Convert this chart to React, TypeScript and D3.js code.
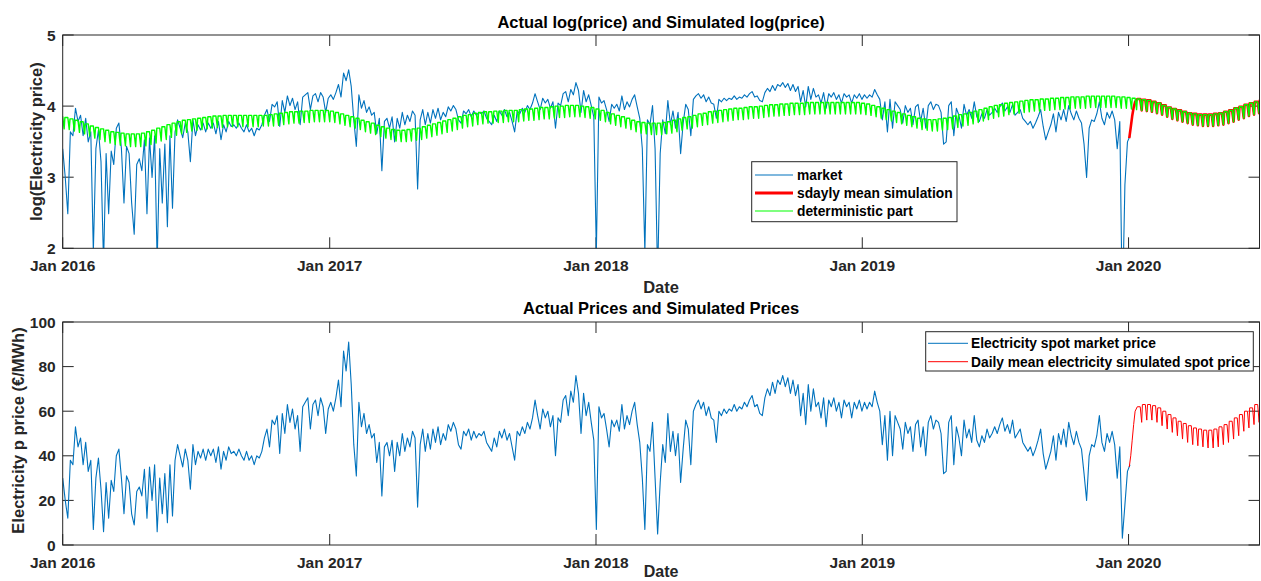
import React from 'react';
import * as d3 from 'd3';

// ---------- data ----------
// Market price (EUR/MWh), one reading every 3.5 days starting 2016-01-01
const marketPrice = [
  30, 20, 12, 38, 36, 53, 44, 48, 36, 46, 33, 38, 7, 30, 39, 25, 6, 28, 12, 29,
  24, 40, 43, 30, 14, 31, 28, 14, 9, 24, 26, 22, 34, 12, 35, 20, 36, 6, 30, 14,
  32, 10, 36, 13, 38, 45, 40, 35, 43, 38, 25, 45, 36, 42, 39, 43, 38, 43, 40, 43,
  37, 44, 34, 42, 38, 44, 41, 42, 40, 43,
  40, 38, 42, 38, 40, 36, 40, 39, 42, 48, 52, 44, 56, 54, 58, 41, 59, 50, 63, 55,
  61, 52, 58, 42, 62, 64, 66, 52, 63, 65, 58, 66, 62, 50, 61, 64, 60, 66, 74, 62,
  87, 78, 91, 72, 45, 31, 64, 53, 59, 50, 54, 48, 50, 37, 46, 22, 44, 46, 40, 47,
  33, 46, 40, 50, 42, 48, 44, 51, 48, 17,
  45, 52, 42, 50, 43, 52, 46, 53, 45, 50, 47, 54, 51, 55, 52, 45, 43, 51, 49, 52,
  47, 51, 48, 50, 49, 51, 46, 44, 42, 48, 44, 51, 48, 52, 47, 50, 44, 38, 51, 49,
  53, 50, 55, 52, 57, 65, 58, 52, 61, 57, 60, 53, 58, 40, 57, 55, 65, 67, 58, 69,
  64, 76, 68, 50, 68, 58, 64, 55, 47, 7,
  62, 57, 59, 52, 44, 56, 53, 56, 51, 63, 52, 58, 54, 60, 64, 54, 46, 30, 7, 45,
  42, 55, 30, 5, 28, 45, 37, 59, 42, 51, 40, 50, 28, 43, 56, 52, 36, 60, 63, 65,
  61, 64, 58, 62, 57, 56, 46, 60, 58, 61, 59, 61, 60, 63, 60, 62, 61, 64, 62, 65,
  67, 62, 63, 59, 58, 66, 70, 67, 73, 68,
  74, 72, 76, 71, 75, 68, 74, 67, 72, 58, 68, 54, 72, 60, 70, 62, 64, 57, 66, 53,
  65, 62, 66, 60, 64, 57, 65, 62, 64, 57, 64, 61, 65, 60, 64, 61, 64, 62, 69, 64,
  60, 45, 58, 38, 60, 40, 58, 55, 52, 43, 55, 50, 53, 42, 54, 56, 44, 53, 40, 55,
  58, 52, 56, 55, 50, 32, 33, 55, 58, 36, 53,
  48, 40, 56, 48, 52, 46, 58, 47, 44, 49, 46, 52, 48, 50, 53, 50, 54, 57, 51, 54,
  50, 56, 48, 50, 52, 46, 44, 42, 44, 40, 43, 47, 52, 41, 34, 38, 42, 49, 38, 50,
  45, 52, 44, 55, 49, 45, 51, 46, 43, 32, 20, 40, 45, 44, 49, 58, 46, 42, 50, 46,
  51, 45, 30, 44, 3, 18, 33, 36,
];
const marketStepDays = 3.5;

// Deterministic part (log price), weekly: weekday level (Mon-Fri) and Sunday level.
// Week w: Monday = day 7w-4, Friday = day 7w, Sunday = day 7w+2 (day 0 = 2016-01-01)
const detWeekday = [
  3.85, 3.84, 3.82, 3.80, 3.78, 3.75, 3.72, 3.70, 3.68, 3.66,
  3.64, 3.63, 3.62, 3.61, 3.61, 3.61, 3.62, 3.64, 3.66, 3.69,
  3.71, 3.74, 3.76, 3.78, 3.80, 3.81, 3.82, 3.83, 3.84, 3.85,
  3.86, 3.86, 3.87, 3.87, 3.87, 3.87, 3.87, 3.87, 3.87, 3.87,
  3.87, 3.88, 3.89, 3.90, 3.91, 3.92, 3.92, 3.93, 3.93, 3.94,
  3.94, 3.94, 3.94, 3.93, 3.91, 3.89, 3.87, 3.85, 3.83, 3.80,
  3.78, 3.76, 3.73, 3.71, 3.69, 3.67, 3.66, 3.66, 3.67, 3.68,
  3.69, 3.71, 3.73, 3.75, 3.77, 3.79, 3.81, 3.83, 3.85, 3.87,
  3.88, 3.90, 3.91, 3.92, 3.92, 3.93, 3.93, 3.94, 3.94, 3.94,
  3.95, 3.96, 3.96, 3.97, 3.98, 3.98, 3.99, 4.00, 4.00, 4.01,
  4.01, 4.01, 4.00, 3.99, 3.98, 3.96, 3.94, 3.91, 3.89, 3.87,
  3.85, 3.83, 3.80, 3.78, 3.77, 3.76, 3.76, 3.76, 3.77, 3.78,
  3.80, 3.82, 3.84, 3.85, 3.87, 3.89, 3.90, 3.92, 3.93, 3.94,
  3.95, 3.96, 3.97, 3.97, 3.98, 3.99, 3.99, 4.00, 4.01, 4.02,
  4.02, 4.03, 4.03, 4.04, 4.04, 4.04, 4.05, 4.05, 4.05, 4.05,
  4.05, 4.05, 4.05, 4.05, 4.05, 4.05, 4.05, 4.04, 4.03, 4.01,
  3.99, 3.97, 3.95, 3.93, 3.91, 3.89, 3.87, 3.85, 3.83, 3.82,
  3.81, 3.81, 3.82, 3.83, 3.84, 3.86, 3.88, 3.89, 3.91, 3.93,
  3.95, 3.97, 3.99, 4.01, 4.02, 4.04, 4.05, 4.06, 4.07, 4.08,
  4.09, 4.09, 4.10, 4.10, 4.11, 4.11, 4.12, 4.12, 4.13, 4.13,
  4.13, 4.14, 4.14, 4.14, 4.14, 4.14, 4.14, 4.13, 4.13, 4.12,
  4.11, 4.10, 4.09, 4.08, 4.06, 4.04, 4.01, 3.98, 3.96, 3.94,
  3.92, 3.90, 3.89, 3.88, 3.88, 3.88, 3.89, 3.90, 3.92, 3.94,
  3.97, 3.99, 4.02, 4.04, 4.06, 4.08,
];
const detWeekend = [
  3.68, 3.67, 3.65, 3.63, 3.61, 3.58, 3.55, 3.53, 3.50, 3.48,
  3.46, 3.45, 3.44, 3.43, 3.43, 3.43, 3.44, 3.46, 3.48, 3.51,
  3.53, 3.56, 3.59, 3.61, 3.63, 3.65, 3.66, 3.67, 3.68, 3.69,
  3.70, 3.70, 3.71, 3.71, 3.71, 3.71, 3.71, 3.71, 3.71, 3.72,
  3.72, 3.72, 3.73, 3.74, 3.75, 3.76, 3.76, 3.77, 3.77, 3.78,
  3.78, 3.78, 3.78, 3.77, 3.75, 3.73, 3.71, 3.69, 3.67, 3.64,
  3.62, 3.60, 3.57, 3.55, 3.53, 3.51, 3.50, 3.50, 3.51, 3.52,
  3.53, 3.55, 3.57, 3.59, 3.61, 3.63, 3.65, 3.67, 3.69, 3.71,
  3.72, 3.74, 3.75, 3.76, 3.76, 3.77, 3.77, 3.78, 3.78, 3.78,
  3.79, 3.80, 3.80, 3.81, 3.82, 3.82, 3.83, 3.84, 3.84, 3.85,
  3.85, 3.85, 3.84, 3.83, 3.82, 3.80, 3.78, 3.75, 3.73, 3.71,
  3.69, 3.67, 3.64, 3.62, 3.61, 3.60, 3.60, 3.60, 3.61, 3.62,
  3.64, 3.66, 3.68, 3.69, 3.71, 3.73, 3.74, 3.76, 3.77, 3.78,
  3.79, 3.80, 3.81, 3.81, 3.82, 3.83, 3.83, 3.84, 3.85, 3.86,
  3.86, 3.87, 3.87, 3.88, 3.88, 3.88, 3.89, 3.89, 3.89, 3.89,
  3.89, 3.89, 3.89, 3.89, 3.89, 3.89, 3.89, 3.88, 3.87, 3.85,
  3.83, 3.81, 3.79, 3.77, 3.75, 3.73, 3.71, 3.69, 3.67, 3.66,
  3.65, 3.65, 3.66, 3.67, 3.68, 3.70, 3.72, 3.73, 3.75, 3.77,
  3.79, 3.81, 3.83, 3.85, 3.86, 3.88, 3.89, 3.90, 3.91, 3.92,
  3.93, 3.93, 3.94, 3.94, 3.95, 3.95, 3.96, 3.96, 3.97, 3.97,
  3.97, 3.98, 3.98, 3.98, 3.98, 3.98, 3.98, 3.97, 3.97, 3.96,
  3.95, 3.94, 3.93, 3.92, 3.90, 3.88, 3.85, 3.82, 3.80, 3.78,
  3.76, 3.74, 3.73, 3.72, 3.72, 3.72, 3.73, 3.74, 3.76, 3.78,
  3.81, 3.83, 3.86, 3.88, 3.90, 3.92,
];

// Simulation (2020): start-up days, then weekly levels from week 211 (Mon 2020-01-13)
const simRampDay = [1462, 1464, 1466, 1468, 1470];
const simRampLog = [3.55, 3.70, 3.86, 3.98, 4.06];
const simRampPrice = [35, 40, 47, 54, 60];
const simFirstWeek = 211;
const simWeekdayLog = [
  4.10, 4.09, 4.08, 4.06, 4.04, 4.01, 3.98, 3.96, 3.94, 3.92, 3.90, 3.89, 3.88,
  3.88, 3.88, 3.89, 3.90, 3.92, 3.94, 3.97, 3.99, 4.02, 4.04, 4.06, 4.08,
];
const simWeekendLog = [
  3.94, 3.93, 3.92, 3.90, 3.88, 3.85, 3.82, 3.80, 3.78, 3.76, 3.74, 3.73, 3.72,
  3.72, 3.72, 3.73, 3.74, 3.76, 3.78, 3.81, 3.83, 3.86, 3.88, 3.90, 3.92,
];
const simWeekdayPrice = [
  62, 63, 63, 62.5, 61.5, 60, 58.5, 57, 55.5, 54.5, 53.5, 52.5, 52,
  51.5, 51.5, 52, 53, 54, 55.5, 57, 58.5, 60, 61.5, 63, 64,
];
const simWeekendPrice = [
  55, 56, 56, 55, 53.5, 52, 50.5, 49, 47.5, 46, 45, 44.5, 44,
  43.5, 43.5, 44, 45, 46, 47.5, 49, 51, 52.5, 54, 55, 56,
];

const yearTicks = [2016, 2017, 2018, 2019, 2020];
const logTicks = [2, 3, 4, 5];
const priceTicks = [0, 20, 40, 60, 80, 100];

// ---------- drawing ----------
const FONT = "'Liberation Sans', Arial, Helvetica, sans-serif";
const INK = '#262626';
const BLUE = '#0072BD';
const RED = '#FF0000';
const GREEN = '#00ff00';

type Pt = { date: Date; v: number };

const T0 = Date.UTC(2016, 0, 1);
const day = (d: number) => new Date(T0 + d * 864e5);

function weeklyPoints(first: number, weekday: number[], weekend: number[]): Pt[] {
  const pts: Pt[] = [];
  weekday.forEach((hi, k) => {
    const w = first + k;
    pts.push({ date: day(7 * w - 4), v: hi });
    pts.push({ date: day(7 * w), v: hi });
    pts.push({ date: day(7 * w + 2), v: weekend[k] });
  });
  return pts;
}

export default function App() {
  const W = 1261;
  const H = 581;
  const left = 62.7;
  const right = 1259.5;
  const top1 = 35, bot1 = 248.3;
  const top2 = 322, bot2 = 545;
  const tickLen = 11;
  const fs = 15.5;

  const x = d3.scaleUtc().domain([day(0), day(1640.5)]).range([left, right]);
  const y1 = d3.scaleLinear().domain([2, 5]).range([bot1, top1]);
  const y2 = d3.scaleLinear().domain([0, 100]).range([bot2, top2]);

  const marketPts: Pt[] = marketPrice.map((p, i) => ({ date: day(i * marketStepDays), v: p }));
  const marketLog: Pt[] = marketPts.map((p) => ({ date: p.date, v: Math.log(p.v) }));
  const detPts = weeklyPoints(0, detWeekday, detWeekend);
  const simLogPts: Pt[] = [
    ...simRampDay.map((d, i) => ({ date: day(d), v: simRampLog[i] })),
    ...weeklyPoints(simFirstWeek, simWeekdayLog, simWeekendLog),
  ];
  const simPricePts: Pt[] = [
    ...simRampDay.map((d, i) => ({ date: day(d), v: simRampPrice[i] })),
    ...weeklyPoints(simFirstWeek, simWeekdayPrice, simWeekendPrice),
  ];

  const line1 = d3.line<Pt>().x((p) => x(p.date)).y((p) => y1(p.v));
  const line2 = d3.line<Pt>().x((p) => x(p.date)).y((p) => y2(p.v));

  const xTickVals = yearTicks.map((yr) => new Date(Date.UTC(yr, 0, 1)));
  const cx = (left + right) / 2;

  const axes = (
    top: number,
    bot: number,
    y: d3.ScaleLinear<number, number>,
    yTicks: number[],
    clipId: string
  ) => (
    <g>
      <defs>
        <clipPath id={clipId}>
          <rect x={left} y={top} width={right - left} height={bot - top} />
        </clipPath>
      </defs>
      {xTickVals.map((t, i) => (
        <g key={'xt' + i}>
          <line x1={x(t)} x2={x(t)} y1={bot} y2={bot - tickLen} stroke={INK} strokeWidth={1} />
          <line x1={x(t)} x2={x(t)} y1={top} y2={top + tickLen} stroke={INK} strokeWidth={1} />
          <text x={x(t)} y={bot + 22.5} textAnchor="middle" fontSize={fs} fontWeight="bold" fill={INK} fontFamily={FONT}>
            {'Jan ' + yearTicks[i]}
          </text>
        </g>
      ))}
      {yTicks.map((v) => (
        <g key={'yt' + v}>
          <line x1={left} x2={left + tickLen} y1={y(v)} y2={y(v)} stroke={INK} strokeWidth={1} />
          <line x1={right - tickLen} x2={right} y1={y(v)} y2={y(v)} stroke={INK} strokeWidth={1} />
          <text x={left - 7} y={y(v)} dy="0.36em" textAnchor="end" fontSize={fs} fontWeight="bold" fill={INK} fontFamily={FONT}>
            {v}
          </text>
        </g>
      ))}
    </g>
  );

  const box = (top: number, bot: number) => (
    <rect x={left} y={top} width={right - left} height={bot - top} fill="none" stroke={INK} strokeWidth={1} />
  );

  return (
    <svg
      width={W}
      height={H}
      viewBox={`0 0 ${W} ${H}`}
      style={{ position: 'absolute', left: 0, top: 0, background: '#fff' }}
      fontFamily={FONT}
    >
      <rect x={0} y={0} width={W} height={H} fill="#fff" />

      {/* ---------- top panel ---------- */}
      <rect x={left} y={top1} width={right - left} height={bot1 - top1} fill="#fff" />
      {axes(top1, bot1, y1, logTicks, 'clip1')}
      <g clipPath="url(#clip1)" fill="none">
        <path d={line1(marketLog) || ''} stroke={BLUE} strokeWidth={1.1} strokeLinejoin="round" />
        <path d={line1(simLogPts) || ''} stroke={RED} strokeWidth={2.6} strokeLinejoin="round" />
        <path d={line1(detPts) || ''} stroke={GREEN} strokeWidth={1.4} strokeLinejoin="round" />
      </g>
      {box(top1, bot1)}
      <text x={cx} y={28} textAnchor="middle" fontSize={16.5} fontWeight="bold" fill="#000">
        Actual log(price) and Simulated log(price)
      </text>
      <text x={cx} y={293} textAnchor="middle" fontSize={16.5} fontWeight="bold" fill={INK}>
        Date
      </text>
      <text
        transform={`translate(36, ${(top1 + bot1) / 2}) rotate(-90)`}
        dy="0.35em"
        textAnchor="middle"
        fontSize={16.5}
        fontWeight="bold"
        fill={INK}
      >
        log(Electricity price)
      </text>

      {/* top legend */}
      <g>
        <rect x={751.7} y={161.7} width={205.3} height={60} fill="#fff" stroke={INK} strokeWidth={1} />
        {[
          { label: 'market', color: BLUE, w: 1.1 },
          { label: 'sdayly mean simulation', color: RED, w: 3 },
          { label: 'deterministic part', color: GREEN, w: 1.2 },
        ].map((e, i) => (
          <g key={e.label}>
            <line x1={755} x2={793} y1={175 + i * 18} y2={175 + i * 18} stroke={e.color} strokeWidth={e.w} />
            <text x={797} y={175 + i * 18} dy="0.35em" fontSize={13.8} fontWeight="bold" fill="#000">
              {e.label}
            </text>
          </g>
        ))}
      </g>

      {/* ---------- bottom panel ---------- */}
      {axes(top2, bot2, y2, priceTicks, 'clip2')}
      <g clipPath="url(#clip2)" fill="none">
        <path d={line2(marketPts) || ''} stroke={BLUE} strokeWidth={1.1} strokeLinejoin="round" />
        <path d={line2(simPricePts) || ''} stroke={RED} strokeWidth={1} strokeLinejoin="round" />
      </g>
      {box(top2, bot2)}
      <text x={cx} y={314} textAnchor="middle" fontSize={16.5} fontWeight="bold" fill="#000">
        Actual Prices and Simulated Prices
      </text>
      <text x={cx} y={577} textAnchor="middle" fontSize={16} fontWeight="bold" fill={INK}>
        Date
      </text>
      <text
        transform={`translate(18, ${(top2 + bot2) / 2 - 3}) rotate(-90)`}
        dy="0.35em"
        textAnchor="middle"
        fontSize={16.5}
        fontWeight="bold"
        fill={INK}
      >
        Electricity p price (€/MWh)
      </text>

      {/* bottom legend */}
      <g>
        <rect x={925.7} y={331.7} width={327.6} height={39.3} fill="#fff" stroke={INK} strokeWidth={1} />
        {[
          { label: 'Electricity spot market price', color: BLUE },
          { label: 'Daily mean electricity simulated spot price', color: RED },
        ].map((e, i) => (
          <g key={e.label}>
            <line x1={928} x2={968} y1={343.3 + i * 18.4} y2={343.3 + i * 18.4} stroke={e.color} strokeWidth={1} />
            <text x={971} y={343.3 + i * 18.4} dy="0.35em" fontSize={13.8} fontWeight="bold" fill="#000">
              {e.label}
            </text>
          </g>
        ))}
      </g>
    </svg>
  );
}
